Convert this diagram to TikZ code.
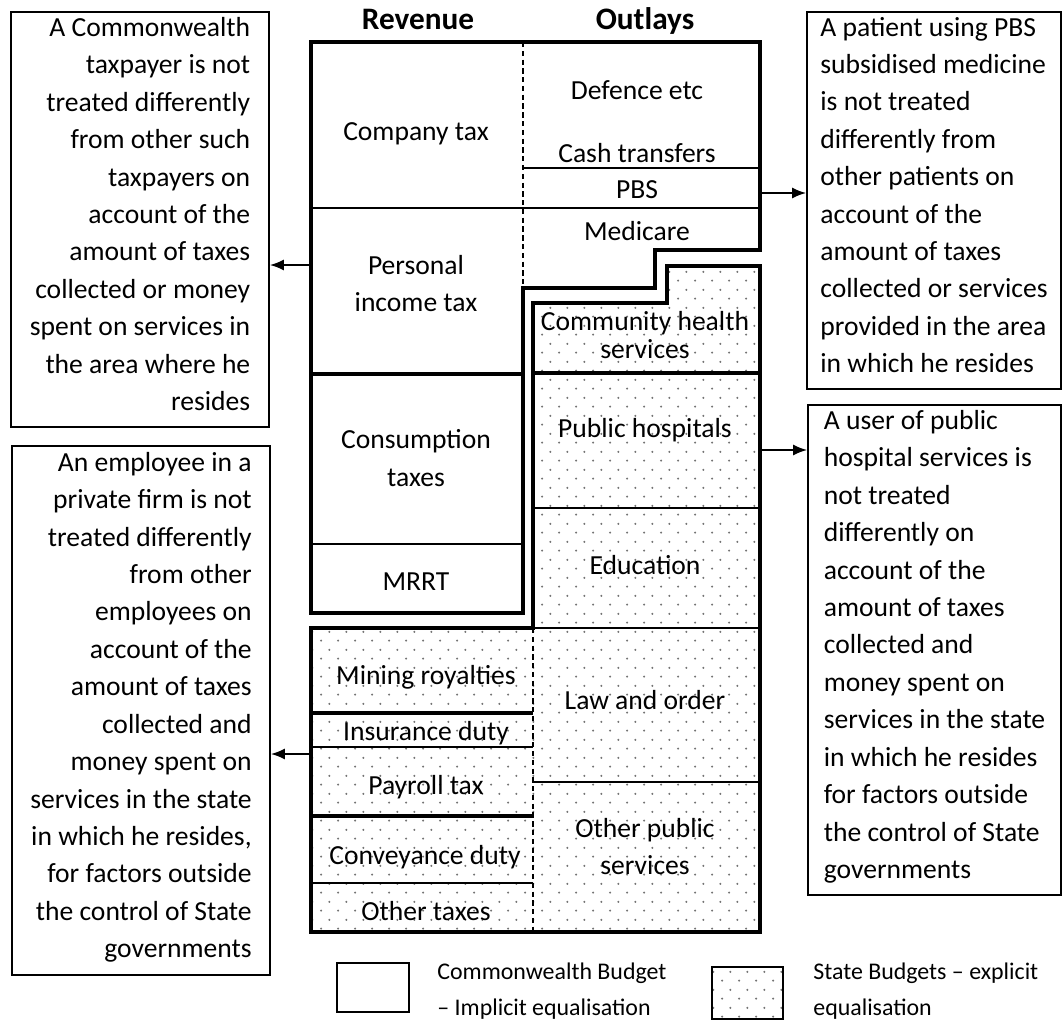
\documentclass[tikz,border=0pt]{standalone}
\usepackage{fontspec}
\setmainfont{Carlito}
\usetikzlibrary{arrows.meta,patterns.meta}
\tikzdeclarepattern{
  name=statedots,
  type=colored,
  bounding box={(0pt,0pt) and (9.5pt,10.1pt)},
  tile size={(9.5pt,10.1pt)},
  code={
    \fill[black!55] (2.375pt,2.525pt) circle (0.65pt);
    \fill[black!55] (7.125pt,7.575pt) circle (0.65pt);
  }
}
\begin{document}
\begin{tikzpicture}[x=0.02cm,y=-0.02cm,
  blk/.style={line width=2.2pt},
  sep/.style={line width=0.9pt},
  dsep/.style={line width=0.9pt,dash pattern=on 3pt off 2pt},
  lbl/.style={font=\fontsize{15.7}{21.3}\selectfont,align=center,inner sep=0pt,
    execute at begin node=\strut,execute at end node=\strut},
  hdr/.style={lbl,font=\fontsize{17.8}{21.3}\selectfont\bfseries},
  notebox/.style={draw,line width=1.1pt,inner sep=0pt,font=\fontsize{15.7}{21.3}\selectfont,
    execute at begin node=\strut,execute at end node=\strut},
  keybox/.style={draw,line width=1.1pt,inner sep=0pt},
  keytxt/.style={font=\fontsize{13.6}{20.4}\selectfont,align=left,inner sep=0pt,anchor=west},
  arr/.style={-{Latex[length=0.28cm,width=0.22cm]},line width=0.9pt}]
\path[use as bounding box,fill=white] (0,0) rectangle (1063,1021);

\node[hdr] (rev) at (418,22) {Revenue};
\node[hdr] (outl) at (645,22) {Outlays};

\fill[pattern=statedots] (311,628) -- (533,628) -- (533,303) -- (667,303) -- (667,266)
  -- (760,266) -- (760,932) -- (311,932) -- cycle;

\draw[sep] (311,208) -- (760,208);
\draw[sep] (523,168) -- (760,168);
\draw[dsep] (523,42) -- (523,288);
\draw[blk] (311,374) -- (523,374);
\draw[sep] (311,544) -- (523,544);
\draw[blk] (311,42) -- (760,42) -- (760,250) -- (655,250) -- (655,288) -- (523,288)
  -- (523,613) -- (311,613) -- cycle;

\draw[blk] (533,373) -- (760,373);
\draw[sep] (533,508) -- (760,508);
\draw[sep] (533,628) -- (760,628);
\draw[sep] (533,782) -- (760,782);
\draw[dsep] (533,628) -- (533,932);
\draw[blk] (311,713) -- (533,713);
\draw[sep] (311,747) -- (533,747);
\draw[blk] (311,816) -- (533,816);
\draw[sep] (311,883) -- (533,883);
\draw[blk] (311,628) -- (533,628) -- (533,303) -- (667,303) -- (667,266) -- (760,266)
  -- (760,932) -- (311,932) -- cycle;

\node[lbl] (comptax) at (416,133) {Company tax};
\node[lbl] (pit) at (416,289) {Personal\\income tax};
\node[lbl] (cons) at (416,463.5) {Consumption\\taxes};
\node[lbl] (mrrt) at (416,583) {MRRT};
\node[lbl] (defence) at (637,92) {Defence etc};
\node[lbl] (cash) at (637,155) {Cash transfers};
\node[lbl] (pbs) at (637,191) {PBS};
\node[lbl] (medicare) at (637,233) {Medicare};

\node[lbl,font=\fontsize{15.7}{15.4}\selectfont] (chs) at (645,339) {Community health\\services};
\node[lbl] (hosp) at (645,430) {Public hospitals};
\node[lbl] (edu) at (645,567) {Education};
\node[lbl] (law) at (645,702) {Law and order};
\node[lbl] (ops) at (645,852) {Other public\\services};
\node[lbl] (mining) at (426,677) {Mining royalties};
\node[lbl] (insur) at (426,733) {Insurance duty};
\node[lbl] (payroll) at (426,787) {Payroll tax};
\node[lbl] (convey) at (425,857) {Conveyance duty};
\node[lbl] (othtax) at (426,913) {Other taxes};

\node[notebox,align=right,minimum width=5.16cm,minimum height=8.3cm] (cwnote) at (140,219.5)
  {A Commonwealth\\taxpayer is not\\treated differently\\from other such\\taxpayers on\\account of the\\amount of taxes\\collected or money\\spent on services in\\the area where he\\resides};
\node[notebox,align=right,minimum width=5.16cm,minimum height=10.58cm] (stnote) at (141,710.5)
  {An employee in a\\private firm is not\\treated differently\\from other\\employees on\\account of the\\amount of taxes\\collected and\\money spent on\\services in the state\\in which he resides,\\for factors outside\\the control of State\\governments};
\node[notebox,align=left,minimum width=5.08cm,minimum height=7.54cm] (pbsnote) at (934,200.5)
  {A patient using PBS\\subsidised medicine\\is not treated\\differently from\\other patients on\\account of the\\amount of taxes\\collected or services\\provided in the area\\in which he resides};
\node[notebox,align=left,minimum width=5.06cm,minimum height=9.8cm] (hospnote) at (934.5,650)
  {A user of public\\hospital services is\\not treated\\differently on\\account of the\\amount of taxes\\collected and\\money spent on\\services in the state\\in which he resides\\for factors outside\\the control of State\\governments};

\coordinate (cwedge) at (311,265);
\coordinate (stedge) at (311,754);
\coordinate (pbsedge) at (760,193);
\coordinate (hospedge) at (760,450);
\draw[arr] (cwedge) -- (cwedge -| cwnote.east);
\draw[arr] (stedge) -- (stedge -| stnote.east);
\draw[arr] (pbsedge) -- (pbsedge -| pbsnote.west);
\draw[arr] (hospedge) -- (hospedge -| hospnote.west);

\node[keybox,minimum width=1.44cm,minimum height=0.98cm] (cwkey) at (373,987.5) {};
\node[keybox,pattern=statedots,minimum width=1.42cm,minimum height=1.04cm] (stkey) at (747.5,993) {};
\node[keytxt] (cwkeytxt) at (437,991) {Commonwealth Budget\\– Implicit equalisation};
\node[keytxt] (stkeytxt) at (813,991) {State Budgets – explicit\\equalisation};
\end{tikzpicture}
\end{document}
